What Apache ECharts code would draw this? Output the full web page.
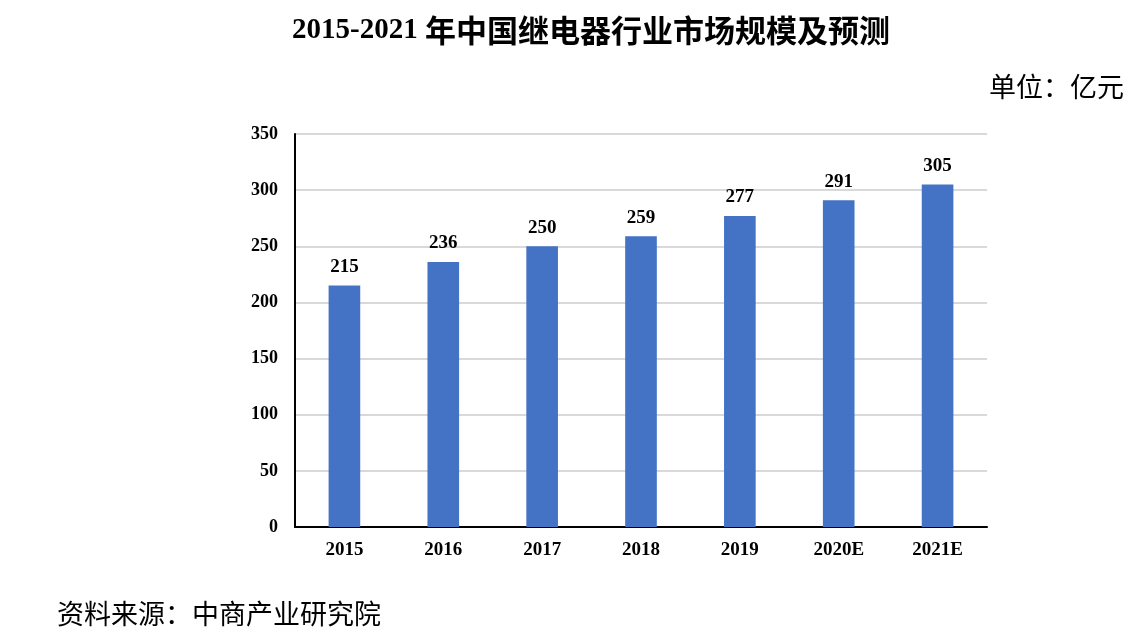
<!DOCTYPE html>
<html><head><meta charset="utf-8">
<script src="https://cdn.jsdelivr.net/npm/echarts@6/dist/echarts.min.js"></script>
<style>html,body{margin:0;padding:0;background:#fff}#c{width:1136px;height:642px}</style>
</head><body><div id="c"></div>
<script>
const titleYears = '2015-2021 ';
const titleCn = '年中国继电器行业市场规模及预测';
const unitText = '单位：亿元';
const sourceText = '资料来源：中商产业研究院';
const categories = ['2015','2016','2017','2018','2019','2020E','2021E'];
const values = [215,236,250,259,277,291,305];
const yMin = 0, yMax = 350, yInterval = 50;

const serif = '"Liberation Serif","Times New Roman",serif';
const chart = echarts.init(document.getElementById('c'));
chart.setOption({
  animation:false,
  backgroundColor:'#fff',
  title:[
    {text:'{a|'+titleYears+'}{b|'+titleCn+'}',left:287,top:10,
     textStyle:{rich:{
       a:{fontFamily:serif,fontWeight:'bold',fontSize:29,color:'#000'},
       b:{fontFamily:'"Noto Sans CJK SC",sans-serif',fontWeight:'bold',fontSize:31,color:'#000'}}}},
    {text:unitText,right:7,top:68,textStyle:{fontFamily:'"Noto Sans CJK SC",sans-serif',fontWeight:'normal',fontSize:27,color:'#000'}},
    {text:sourceText,left:52,top:595,textStyle:{fontFamily:'"Noto Sans CJK SC",sans-serif',fontWeight:'normal',fontSize:27,color:'#000'}}
  ],
  grid:{left:295,right:149,top:134,bottom:115,containLabel:false},
  xAxis:{type:'category',data:categories,
    axisLine:{lineStyle:{color:'#000',width:2}},axisTick:{show:false},
    axisLabel:{fontFamily:serif,fontWeight:'bold',fontSize:19,color:'#000',margin:14}},
  yAxis:{type:'value',min:yMin,max:yMax,interval:yInterval,
    axisLine:{show:true,lineStyle:{color:'#000',width:2}},axisTick:{show:false},
    splitLine:{lineStyle:{color:'#d9d9d9',width:2}},
    axisLabel:{fontFamily:serif,fontWeight:'bold',fontSize:18,color:'#000',margin:17}},
  series:[{type:'bar',data:values,barWidth:'32%',itemStyle:{color:'#4472C4'},
    label:{show:true,position:'top',distance:9,fontFamily:serif,fontWeight:'bold',fontSize:19,color:'#000'}}]
});
</script></body></html>
